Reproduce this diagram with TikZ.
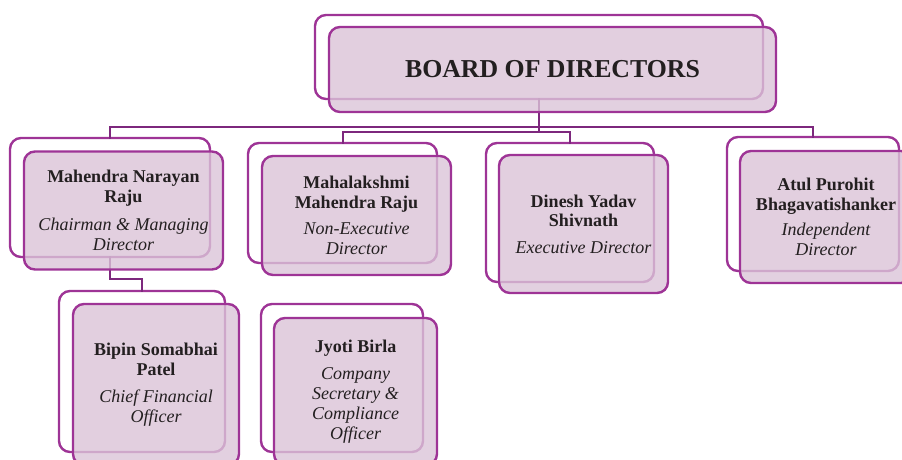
\documentclass[tikz,border=0pt]{standalone}
\usepackage{fontspec}
\setmainfont{Liberation Serif}
\definecolor{boxpurple}{RGB}{158,52,150}
\definecolor{connpurple}{RGB}{125,40,125}
\definecolor{boxfill}{RGB}{219,196,216}
\definecolor{txt}{RGB}{35,31,32}
\newcommand{\nm}[1]{{\bfseries #1}}
\newcommand{\rl}[1]{{\itshape #1}}
\tikzset{
  backbox/.style={draw=boxpurple, line width=2.4pt, rounded corners=11pt, fill=white, inner sep=0pt, outer sep=0pt},
  frontbox/.style={draw=boxpurple, line width=2.4pt, rounded corners=11pt, fill=boxfill, fill opacity=0.8, text opacity=1, inner sep=0pt, outer sep=0pt, align=center, text=txt, font=\fontsize{18}{19.8}\selectfont},
  conn/.style={draw=connpurple, line width=2pt, line cap=rect},
}
\begin{document}
\begin{tikzpicture}[x=1pt,y=-1pt]
\useasboundingbox (0,0) rectangle (902,459);
\clip (0,0) rectangle (902,459);
% back boxes
\node[backbox, minimum width=448pt, minimum height=84pt] (bdb) at (539,57) {};
\node[backbox, minimum width=200pt, minimum height=119pt] (mnb) at (110,197.5) {};
\node[backbox, minimum width=189pt, minimum height=120pt] (mlb) at (342.5,203) {};
\node[backbox, minimum width=168pt, minimum height=139pt] (dyb) at (570,212.5) {};
\node[backbox, minimum width=172pt, minimum height=134pt] (apb) at (813,204) {};
\node[backbox, minimum width=166pt, minimum height=161pt] (bpb) at (142,371.5) {};
\node[backbox, minimum width=162pt, minimum height=148pt] (jbb) at (342,378) {};
% bus levels
\coordinate (bus1) at (0,127);
\coordinate (bus2) at (0,132);
\coordinate (bus3) at (0,279);
% connectors
\draw[conn] (bdb.south) -- (bdb.south |- bus2);
\draw[conn] (mnb.north) -- (mnb.north |- bus1) -- (apb.north |- bus1) -- (apb.north);
\draw[conn] (mlb.north) -- (mlb.north |- bus2) -- (dyb.north |- bus2) -- (dyb.north);
\draw[conn] (mnb.south) -- (mnb.south |- bus3) -- (bpb.north |- bus3) -- (bpb.north);
% front boxes
\node[frontbox, minimum width=447pt, minimum height=85pt, font=\bfseries\fontsize{25.8}{30}\selectfont] (bd) at (552.5,69.5) {BOARD OF DIRECTORS};
\node[frontbox, minimum width=199pt, minimum height=118pt] (mn) at (123.5,210.5)
  {\nm{Mahendra Narayan}\\\nm{Raju}\\[8pt]\rl{Chairman \& Managing}\\\rl{Director}};
\node[frontbox, minimum width=189pt, minimum height=119pt] (ml) at (356.5,215.5)
  {\nm{Mahalakshmi}\\\nm{Mahendra Raju}\\[6.5pt]\rl{Non-Executive}\\\rl{Director}};
\node[frontbox, minimum width=169pt, minimum height=138pt] (dy) at (583.5,224)
  {\nm{Dinesh Yadav}\\\nm{Shivnath}\\[6.5pt]\rl{Executive Director}};
\node[frontbox, minimum width=172pt, minimum height=132pt] (ap) at (826,217)
  {\nm{Atul Purohit}\\\nm{Bhagavatishanker}\\[5.5pt]\rl{Independent}\\\rl{Director}};
\node[frontbox, minimum width=166pt, minimum height=161pt] (bp) at (156,384.5)
  {\nm{Bipin Somabhai}\\\nm{Patel}\\[7.5pt]\rl{Chief Financial}\\\rl{Officer}};
\node[frontbox, minimum width=163pt, minimum height=147pt] (jb) at (355.5,391.5)
  {\nm{Jyoti Birla}\\[7.5pt]\rl{Company}\\\rl{Secretary \&}\\\rl{Compliance}\\\rl{Officer}};
\end{tikzpicture}
\end{document}
